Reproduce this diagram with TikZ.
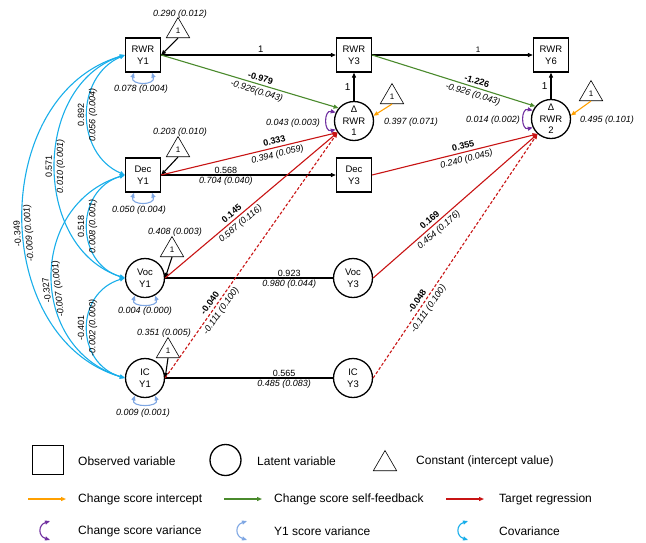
\documentclass[tikz,border=0pt]{standalone}
\usepackage{fontspec}
\setmainfont{Liberation Sans}
\usetikzlibrary{shapes.geometric,arrows.meta}
\definecolor{covc}{HTML}{18AEEA}
\definecolor{grnc}{HTML}{4A8A2C}
\definecolor{redc}{HTML}{C81414}
\definecolor{orgc}{HTML}{FFA000}
\definecolor{purc}{HTML}{7030A0}
\definecolor{lbc}{HTML}{7FA7E3}
\begin{document}
\begin{tikzpicture}[x=1pt,y=-1pt,
  every node/.style={font=\fontsize{9.5}{12}\selectfont},
  tip/.style={-{Triangle[length=5pt,width=4pt]}},
  tips/.style={{Triangle[length=5pt,width=4pt]}-{Triangle[length=5pt,width=4pt]}},
  obs/.style={draw, line width=1.3pt, minimum width=35pt, minimum height=34pt, inner sep=0pt, align=center},
  lat/.style={draw, circle, line width=1.3pt, minimum size=39pt, inner sep=0pt, align=center},
  cnst/.style={draw, regular polygon, regular polygon sides=3, minimum size=27pt, inner sep=0pt, line width=0.6pt, font=\fontsize{8}{9}\selectfont},
  val/.style={font=\fontsize{9}{10}\selectfont\itshape, inner sep=1pt},
  bval/.style={font=\fontsize{9}{10}\selectfont\bfseries, inner sep=1pt},
  pval/.style={font=\fontsize{9}{10}\selectfont, inner sep=1pt},
  up/.style={sloped, above=1.8pt},
  dn/.style={sloped, below=1.8pt},
  blk/.style={draw=black, line width=1.1pt, tip},
  blkn/.style={draw=black, line width=1.1pt},
  grnp/.style={draw=grnc, line width=1.1pt, tip},
  redp/.style={draw=redc, line width=1.1pt, tip},
  redd/.style={draw=redc, line width=1.1pt, tip, dash pattern=on 3pt off 2pt},
  orgp/.style={draw=orgc, line width=1.1pt, tip},
  purv/.style={draw=purc, line width=1.1pt, tips},
  lbv/.style={draw=lbc, line width=1.1pt, tips},
  covp/.style={draw=covc, line width=1.1pt, tips},
  legt/.style={anchor=west, font=\fontsize{12}{14}\selectfont, inner sep=0pt}
]
\useasboundingbox (0,0) rectangle (646,542);

% observed / latent nodes
\node[obs] (rwr1) at (143,55) {RWR\\Y1};
\node[obs] (rwr3) at (354,55) {RWR\\Y3};
\node[obs] (rwr6) at (551,55) {RWR\\Y6};
\node[obs] (dec1) at (143,175) {Dec\\Y1};
\node[obs] (dec3) at (354,175) {Dec\\Y3};
\node[lat] (voc1) at (145,278) {Voc\\Y1};
\node[lat] (voc3) at (353,278) {Voc\\Y3};
\node[lat] (ic1) at (145,378) {IC\\Y1};
\node[lat] (ic3) at (353,378) {IC\\Y3};
\node[lat, label={[align=center, font=\fontsize{9.5}{11.5}\selectfont]center:{Δ\\RWR\\1}}] (d1) at (354,121) {};
\node[lat, label={[align=center, font=\fontsize{9.5}{11.5}\selectfont]center:{Δ\\RWR\\2}}] (d2) at (551,119) {};

% constants
\node[cnst] (t1) at (178,31) {1};
\node[cnst] (t2) at (178,150) {1};
\node[cnst] (t3) at (172,250) {1};
\node[cnst] (t4) at (168,351) {1};
\node[cnst] (t5) at (392,97) {1};
\node[cnst] (t6) at (591,94) {1};
\node[val] (lt1) at (180,14) {0.290 (0.012)};
\node[val] (lt2) at (180,132) {0.203 (0.010)};
\node[val] (lt3) at (175,232) {0.408 (0.003)};
\node[val] (lt4) at (164,333) {0.351 (0.005)};
\node[val] (lt5) at (411,122) {0.397 (0.071)};
\node[val] (lt6) at (607,120) {0.495 (0.101)};

\draw[blk] (t1.south) -- (rwr1.east);
\draw[blk] (t2.south) -- (dec1.east);
\draw[blk] (t3.south) -- (voc1.east);
\draw[blk] (t4.south) -- (ic1.east);
\draw[orgp] (t5.south) -- (d1.15);
\draw[orgp] (t6.south) -- (d2.10);

% autoregressive paths
\draw[blk] (rwr1.east) -- node[pval, above=1pt, pos=0.57, font=\fontsize{9.5}{10}\selectfont] {1} (rwr3.west);
\draw[blk] (rwr3.east) -- node[pval, above=1pt, pos=0.66, font=\fontsize{8}{9}\selectfont] {1} (rwr6.west);
\draw[blk] (d1.north) -- node[pval, left=2pt, font=\fontsize{10}{10}\selectfont] {1} (rwr3.south);
\draw[blk] (d2.north) -- node[pval, left=2pt, font=\fontsize{10}{10}\selectfont] {1} (rwr6.south);
\draw[blk] (dec1.east) -- node[pval, above, pos=0.37] {0.568} node[val, below, pos=0.37] {0.704 (0.040)} (dec3.west);
\draw[blkn] (voc1.east) -- node[pval, above, pos=0.74] {0.923} node[val, below, pos=0.74] {0.980 (0.044)} (voc3.west);
\draw[blkn] (ic1.east) -- node[pval, above, pos=0.71] {0.565} node[val, below, pos=0.71] {0.485 (0.083)} (ic3.west);

% self-feedback
\draw[grnp] (rwr1.east) -- node[bval, up, pos=0.55] {-0.979} node[val, dn, pos=0.55] {-0.926(0.043)} (d1.140);
\draw[grnp] (rwr3.east) -- node[bval, up, pos=0.63] {-1.226} node[val, dn, pos=0.63] {-0.926 (0.043)} (d2.141);

% target regressions
\draw[redp] (dec1.east) -- node[bval, up, pos=0.65] {0.333} node[val, dn, pos=0.65] {0.394 (0.059)} (d1.215);
\draw[redp] (voc1.east) -- node[bval, up, pos=0.41] {0.145} node[val, dn, pos=0.41] {0.587 (0.116)} (d1.215);
\draw[redd] (ic1.east) -- node[bval, up, pos=0.29] {-0.040} node[val, dn, pos=0.29] {-0.111 (0.100)} (d1.215);
\draw[redp] (dec3.east) -- node[bval, up, pos=0.56] {0.355} node[val, dn, pos=0.56] {0.240 (0.045)} (d2.228);
\draw[redp] (voc3.east) -- node[bval, up, pos=0.37] {0.169} node[val, dn, pos=0.37] {0.454 (0.176)} (d2.228);
\draw[redd] (ic3.east) -- node[bval, up, pos=0.3] {-0.048} node[val, dn, pos=0.3] {-0.111 (0.100)} (d2.228);

% change score variances
\draw[purv] (d1.155) .. controls +(-12,-3) and +(-12,3) .. (d1.205);
\draw[purv] (d2.155) .. controls +(-12,-3) and +(-12,3) .. (d2.205);
\node[val] (lv1) at (293,123) {0.043 (0.003)};
\node[val] (lv2) at (493,120) {0.014 (0.002)};

% Y1 variances
\draw[lbv] ([xshift=-9pt]rwr1.south) .. controls +(-4,13) and +(4,13) .. ([xshift=9pt]rwr1.south);
\draw[lbv] ([xshift=-9pt]dec1.south) .. controls +(-4,13) and +(4,13) .. ([xshift=9pt]dec1.south);
\draw[lbv] (voc1.240) .. controls +(-4,12) and +(4,12) .. (voc1.300);
\draw[lbv] (ic1.240) .. controls +(-4,12) and +(4,12) .. (ic1.300);
\node[val] (lw1) at (141,89) {0.078 (0.004)};
\node[val] (lw2) at (139,210) {0.050 (0.004)};
\node[val] (lw3) at (145,311) {0.004 (0.000)};
\node[val] (lw4) at (143,413) {0.009 (0.001)};

% covariances
\draw[covp] (dec1.west) .. controls +(-50,-22) and +(-50,22) .. node[pval, sloped, above=1.5pt] {0.892} node[val, sloped, below] {0.056 (0.004)} (rwr1.west);
\draw[covp] (voc1.west) .. controls +(-93,-30) and +(-93,30) .. node[pval, sloped, above=1.5pt] {0.571} node[val, sloped, below] {0.010 (0.001)} (rwr1.west);
\draw[covp] (ic1.west) .. controls +(-136,-40) and +(-136,40) .. node[pval, sloped, allow upside down, above=1.5pt, pos=0.46] {-0.349} node[val, sloped, allow upside down, below, pos=0.46] {-0.009 (0.001)} (rwr1.west);
\draw[covp] (voc1.west) .. controls +(-50,-15) and +(-50,15) .. node[pval, sloped, above=1.5pt] {0.518} node[val, sloped, below] {0.008 (0.001)} (dec1.west);
\draw[covp] (ic1.west) .. controls +(-97,-30) and +(-97,30) .. node[pval, sloped, allow upside down, above=1.5pt, pos=0.45] {-0.327} node[val, sloped, allow upside down, below, pos=0.45] {-0.007 (0.001)} (dec1.west);
\draw[covp] (ic1.west) .. controls +(-50,-15) and +(-50,15) .. node[pval, sloped, above=1.5pt] {-0.401} node[val, sloped, below] {-0.002 (0.000)} (voc1.west);

% legend
\node[obs, minimum width=31pt, minimum height=29pt] (lobs) at (48,460) {};
\node[legt] (lobst) at (78,461) {Observed variable};
\node[lat, minimum size=31pt] (llat) at (225.5,460) {};
\node[legt] (llatt) at (257,461) {Latent variable};
\node[cnst] (lcon) at (385,464) {};
\node[legt] (lcont) at (416,461) {Constant (intercept value)};

\coordinate (o1) at (28,499); \coordinate (o2) at (66,499);
\draw[orgp] (o1) -- (o2);
\node[legt] (lot) at (78,499) {Change score intercept};
\coordinate (g1) at (224,499); \coordinate (g2) at (262,499);
\draw[grnp] (g1) -- (g2);
\node[legt] (lgt) at (274,499) {Change score self-feedback};
\coordinate (r1) at (446,499); \coordinate (r2) at (484,499);
\draw[redp] (r1) -- (r2);
\node[legt] (lrt) at (499,499) {Target regression};

\coordinate (p1) at (50,521); \coordinate (p2) at (50,540);
\draw[purv] (p1) .. controls +(-12,4) and +(-12,-4) .. (p2);
\node[legt] (lpt) at (78,531) {Change score variance};
\coordinate (b1) at (247,521); \coordinate (b2) at (247,540);
\draw[lbv] (b1) .. controls +(-12,4) and +(-12,-4) .. (b2);
\node[legt] (lbt) at (274,531) {Y1 score variance};
\coordinate (c1) at (468,521); \coordinate (c2) at (468,540);
\draw[covp] (c1) .. controls +(-12,4) and +(-12,-4) .. (c2);
\node[legt] (lct) at (499,531) {Covariance};
\end{tikzpicture}
\end{document}
